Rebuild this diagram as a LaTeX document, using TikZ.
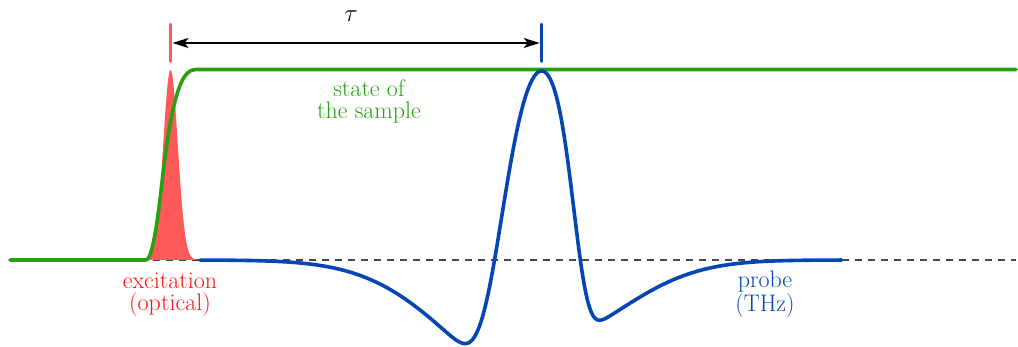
\documentclass[tikz,border=0pt]{standalone}
\usepackage{amsmath,amssymb}
\usepackage{xcolor}
\usepackage{tikz}
\usetikzlibrary{arrows.meta}

\definecolor{pumpred}{RGB}{255,90,90}
\definecolor{excred}{RGB}{250,20,20}
\definecolor{samplegreen}{RGB}{40,160,15}
\definecolor{probeblue}{RGB}{5,70,180}

% probe field left and right of its maximum, \u in units of 100
\tikzset{declare function={
 thzleft(\u)=319*exp(-min(3.3*\u*\u+6.2*\u*\u*\u*\u,20))-130*exp(-\u*\u/1.5488);
 thzright(\u)=271*exp(-min(4.2*\u*\u+31*\u*\u*\u*\u,20))-82*exp(-\u*\u/1.2168);
}}

\begin{document}
\begin{tikzpicture}[x=1pt,y=-1pt,>={Stealth[length=16pt,width=10pt,inset=4pt]},
 curve/.style={line width=3.6pt,line cap=round,line join=round},
 marker/.style={line width=2.8pt,line cap=round},
 zero/.style={line width=1.6pt,black!72,dash pattern=on 7pt off 6pt},
 lbl/.style={align=center,anchor=base,font=\fontsize{24}{22.5}\selectfont}]
\useasboundingbox (0,0) rectangle (1018,347);

% zero level
\draw[zero] (10,260) -- (1016,260);

% optical pump pulse
\fill[pumpred] plot[domain=140:202,samples=90] (\x,{260-190*exp(-0.5*pow((\x-170.5)/7.3,2))}) -- cycle;

% state of the sample
\draw[curve,samplegreen] (10,260) -- (146,260)
 .. controls (151.2,260) and (156.5,232) .. (161.7,185)
 .. controls (173.1,82.1) and (184.6,69.5) .. (196,69.5) -- (1016,69.5);

% THz probe
\draw[curve,probeblue] plot[domain=200:541.7,samples=220] (\x,{260-thzleft((\x-541.7)/100)})
 -- plot[domain=541.7:841.7,samples=200] (\x,{260-thzright((\x-541.7)/100)});

% delay
\coordinate (pumpt) at (170.5,43);
\coordinate (probet) at (541.7,43);
\draw[marker,pumpred] (170.5,24) -- (170.5,61.5);
\draw[marker,probeblue] (541.7,24) -- (541.7,61.5);
\draw[<->,line width=1.8pt,shorten <=2pt,shorten >=2pt] (pumpt) -- (probet);
\node[font=\fontsize{44}{44}\selectfont] (tau) at (351,16) {$\tau$};

\node[lbl,samplegreen] (sample) at (369,119) {state of\\the sample};
\node[lbl,excred] (exc) at (170,311) {excitation\\(optical)};
\node[lbl,probeblue] (probe) at (765,311.5) {probe\\(THz)};
\end{tikzpicture}
\end{document}
